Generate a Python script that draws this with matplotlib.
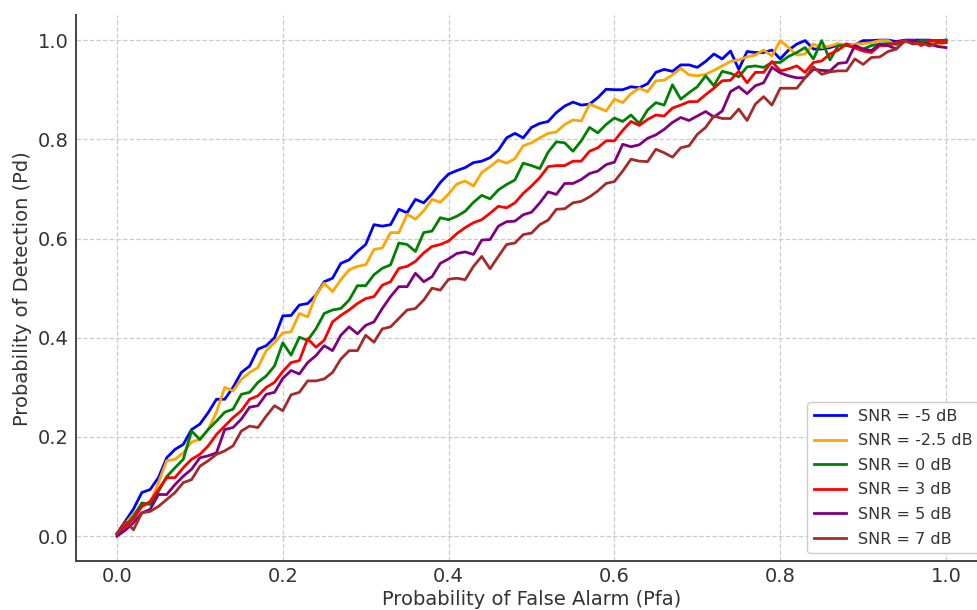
import numpy as np
import matplotlib
matplotlib.use("Agg")
import matplotlib.pyplot as plt

pfa = np.round(np.arange(101) * 0.01, 2)

snr_labels = ["SNR = -5 dB", "SNR = -2.5 dB", "SNR = 0 dB", "SNR = 3 dB", "SNR = 5 dB", "SNR = 7 dB"]
colors = ["blue", "orange", "green", "red", "purple", "brown"]

pd_m5 = [0.005, 0.03, 0.055, 0.088, 0.094, 0.118, 0.158, 0.175, 0.185, 0.215, 0.226,
         0.249, 0.276, 0.276, 0.30, 0.33, 0.343, 0.377, 0.384, 0.40, 0.444,
         0.445, 0.466, 0.469, 0.486, 0.513, 0.52, 0.55, 0.557, 0.574, 0.588,
         0.628, 0.625, 0.628, 0.659, 0.652, 0.679, 0.672, 0.69, 0.713, 0.73,
         0.737, 0.743, 0.753, 0.756, 0.763, 0.778, 0.803, 0.812, 0.803, 0.824,
         0.832, 0.836, 0.854, 0.867, 0.875, 0.869, 0.871, 0.884, 0.901, 0.90,
         0.90, 0.906, 0.904, 0.912, 0.935, 0.941, 0.937, 0.95, 0.95, 0.945,
         0.957, 0.972, 0.962, 0.978, 0.941, 0.977, 0.975, 0.975, 0.98, 0.962,
         0.98, 0.992, 0.999, 0.982, 0.982, 0.985, 0.99, 0.992, 0.99, 0.999,
         0.999, 1.0, 1.0, 0.997, 1.0, 1.0, 1.0, 1.0, 0.998, 1.0]

pd_m25 = [0.005, 0.025, 0.045, 0.06, 0.067, 0.108, 0.152, 0.155, 0.168, 0.19, 0.195,
          0.215, 0.25, 0.30, 0.293, 0.316, 0.33, 0.34, 0.374, 0.39, 0.41,
          0.412, 0.449, 0.442, 0.486, 0.51, 0.493, 0.517, 0.537, 0.544, 0.547,
          0.578, 0.581, 0.612, 0.612, 0.649, 0.639, 0.656, 0.679, 0.673, 0.69,
          0.71, 0.716, 0.706, 0.733, 0.745, 0.758, 0.752, 0.761, 0.787, 0.793,
          0.803, 0.812, 0.815, 0.83, 0.839, 0.837, 0.871, 0.864, 0.857, 0.881,
          0.874, 0.892, 0.903, 0.896, 0.918, 0.919, 0.93, 0.943, 0.93, 0.928,
          0.931, 0.939, 0.948, 0.957, 0.96, 0.966, 0.97, 0.98, 0.968, 0.999,
          0.985, 0.97, 0.972, 0.992, 0.985, 0.988, 0.993, 0.99, 0.992, 0.993,
          0.995, 0.999, 0.999, 0.99, 0.995, 0.999, 0.995, 0.995, 0.99, 0.995]

pd_0 = [0.005, 0.02, 0.04, 0.067, 0.064, 0.09, 0.12, 0.138, 0.155, 0.212, 0.195,
        0.215, 0.232, 0.25, 0.256, 0.286, 0.29, 0.31, 0.323, 0.343, 0.39,
        0.365, 0.401, 0.395, 0.418, 0.449, 0.456, 0.459, 0.476, 0.505, 0.505,
        0.527, 0.54, 0.547, 0.591, 0.588, 0.574, 0.612, 0.615, 0.642, 0.638,
        0.645, 0.655, 0.673, 0.687, 0.68, 0.698, 0.709, 0.718, 0.752, 0.747,
        0.741, 0.774, 0.795, 0.793, 0.776, 0.797, 0.824, 0.813, 0.83, 0.843,
        0.836, 0.849, 0.832, 0.859, 0.874, 0.869, 0.91, 0.881, 0.894, 0.906,
        0.928, 0.908, 0.937, 0.933, 0.926, 0.946, 0.948, 0.945, 0.955, 0.955,
        0.967, 0.975, 0.985, 0.962, 0.999, 0.96, 0.989, 0.989, 0.985, 0.982,
        0.989, 0.992, 0.993, 0.992, 0.999, 0.995, 0.999, 0.999, 0.999, 1.0]

pd_3 = [0.005, 0.02, 0.035, 0.06, 0.07, 0.094, 0.118, 0.118, 0.138, 0.155, 0.165,
        0.182, 0.205, 0.222, 0.239, 0.253, 0.276, 0.283, 0.30, 0.31, 0.332,
        0.35, 0.354, 0.398, 0.381, 0.395, 0.432, 0.445, 0.456, 0.469, 0.479,
        0.483, 0.506, 0.513, 0.54, 0.544, 0.554, 0.571, 0.584, 0.588, 0.595,
        0.61, 0.622, 0.632, 0.638, 0.651, 0.665, 0.662, 0.672, 0.691, 0.706,
        0.723, 0.745, 0.747, 0.747, 0.756, 0.756, 0.776, 0.783, 0.797, 0.797,
        0.818, 0.836, 0.828, 0.84, 0.849, 0.847, 0.863, 0.869, 0.876, 0.876,
        0.89, 0.903, 0.918, 0.919, 0.937, 0.914, 0.935, 0.935, 0.957, 0.938,
        0.942, 0.948, 0.935, 0.955, 0.958, 0.972, 0.98, 0.992, 0.984, 0.978,
        0.975, 0.989, 0.989, 0.995, 0.999, 0.999, 0.989, 0.998, 0.999, 0.999]

pd_5 = [0.0, 0.012, 0.027, 0.047, 0.054, 0.084, 0.084, 0.104, 0.121, 0.135, 0.158,
        0.162, 0.168, 0.215, 0.219, 0.236, 0.26, 0.263, 0.286, 0.29, 0.318,
        0.334, 0.327, 0.35, 0.364, 0.384, 0.374, 0.405, 0.422, 0.408, 0.425,
        0.432, 0.459, 0.483, 0.503, 0.503, 0.53, 0.513, 0.523, 0.55, 0.559,
        0.57, 0.573, 0.568, 0.597, 0.598, 0.625, 0.634, 0.635, 0.648, 0.653,
        0.672, 0.694, 0.689, 0.711, 0.711, 0.719, 0.731, 0.736, 0.749, 0.754,
        0.79, 0.785, 0.789, 0.802, 0.809, 0.82, 0.834, 0.844, 0.838, 0.847,
        0.856, 0.845, 0.857, 0.896, 0.906, 0.892, 0.908, 0.914, 0.945, 0.934,
        0.928, 0.924, 0.924, 0.941, 0.939, 0.938, 0.953, 0.955, 0.989, 0.982,
        0.979, 0.992, 0.989, 0.982, 0.999, 0.999, 0.995, 0.992, 0.987, 0.985]

pd_7 = [0.005, 0.03, 0.013, 0.047, 0.05, 0.06, 0.074, 0.088, 0.108, 0.114, 0.141,
        0.152, 0.165, 0.172, 0.182, 0.212, 0.222, 0.219, 0.242, 0.263, 0.253,
        0.285, 0.29, 0.313, 0.313, 0.317, 0.33, 0.357, 0.374, 0.374, 0.405,
        0.391, 0.418, 0.422, 0.439, 0.456, 0.459, 0.476, 0.5, 0.496, 0.518,
        0.52, 0.517, 0.544, 0.564, 0.539, 0.564, 0.588, 0.591, 0.608, 0.611,
        0.628, 0.637, 0.659, 0.66, 0.672, 0.675, 0.684, 0.696, 0.711, 0.715,
        0.736, 0.76, 0.756, 0.755, 0.78, 0.773, 0.764, 0.783, 0.787, 0.81,
        0.824, 0.847, 0.842, 0.842, 0.861, 0.838, 0.871, 0.886, 0.869, 0.903,
        0.903, 0.903, 0.924, 0.946, 0.931, 0.936, 0.938, 0.938, 0.962, 0.951,
        0.965, 0.966, 0.977, 0.982, 0.999, 0.992, 0.995, 0.988, 0.995, 0.995]

series = [pd_m5, pd_m25, pd_0, pd_3, pd_5, pd_7]

xticks = [0.0, 0.2, 0.4, 0.6, 0.8, 1.0]
yticks = [0.0, 0.2, 0.4, 0.6, 0.8, 1.0]

fig = plt.figure(figsize=(9.78, 6.10), dpi=100)
ax = fig.add_axes([75.5 / 978, 49 / 610, 912 / 978, 545.7 / 610])

for vals, lab, col in zip(series, snr_labels, colors):
    ax.plot(pfa[:len(vals)], vals, color=col, lw=2, label=lab)

ax.set_xlim(-0.05, 1.05)
ax.set_ylim(-0.05, 1.05)
ax.set_xticks(xticks)
ax.set_yticks(yticks)
ax.set_xticklabels([f"{t:.1f}" for t in xticks])
ax.set_yticklabels([f"{t:.1f}" for t in yticks])
ax.grid(True, linestyle="--", color="#cccccc", linewidth=0.9)
ax.set_axisbelow(True)

for s in ["top", "right"]:
    ax.spines[s].set_visible(False)
for s in ["left", "bottom"]:
    ax.spines[s].set_color("#444444")
    ax.spines[s].set_linewidth(1.4)

ax.tick_params(axis="x", length=0, labelsize=14, labelcolor="#333333", pad=4)
ax.tick_params(axis="y", length=0, labelsize=14, labelcolor="#333333", pad=5)
ax.set_xlabel("Probability of False Alarm (Pfa)", fontsize=14, color="#333333", labelpad=3)
ax.set_ylabel("Probability of Detection (Pd)", fontsize=14, color="#333333", labelpad=4)

leg = ax.legend(loc="lower right", fontsize=11.5, frameon=True, fancybox=True,
                edgecolor="#cccccc", framealpha=1.0, labelcolor="#333333",
                labelspacing=0.6)

fig.savefig("out.png", dpi=100)
